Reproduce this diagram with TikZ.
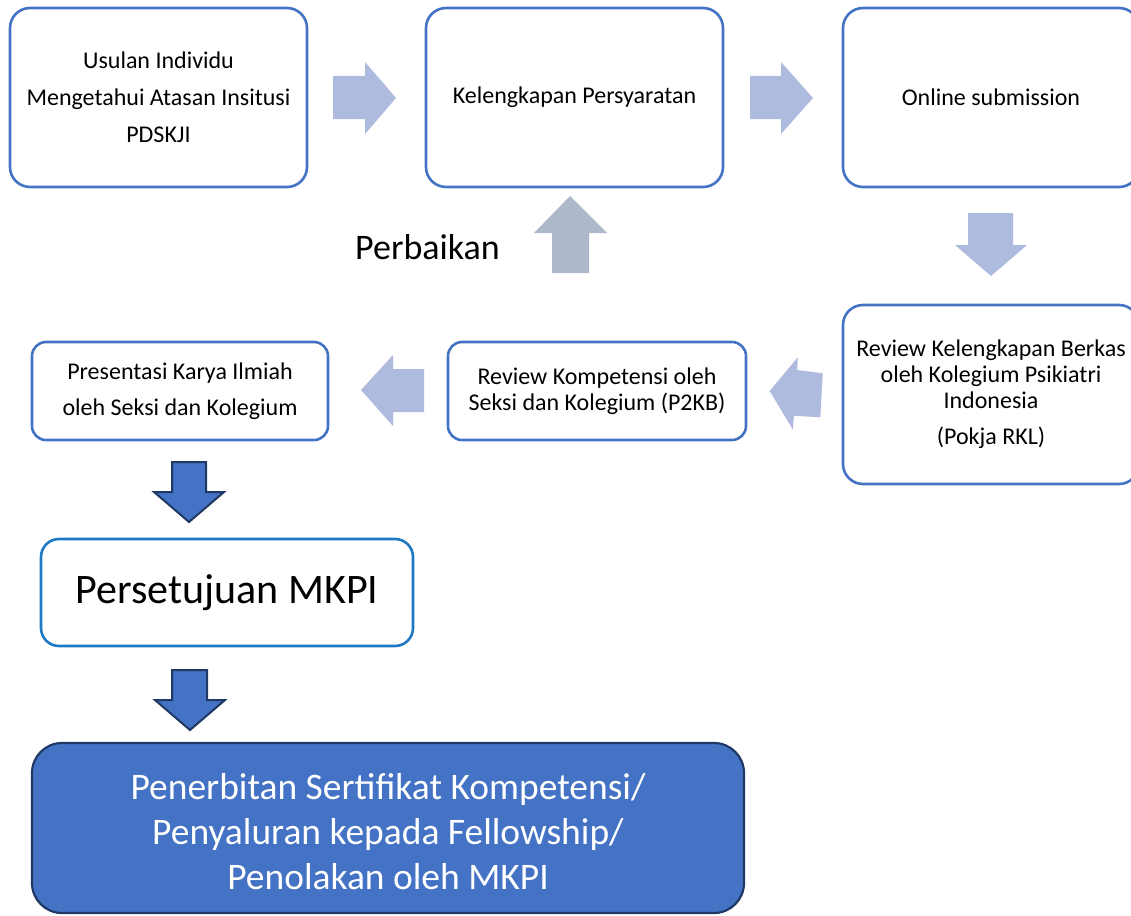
\documentclass[tikz,border=0pt]{standalone}
\usepackage{fontspec}
\setmainfont{Carlito}
\definecolor{boxblue}{HTML}{4472C4}
\definecolor{lightarrow}{HTML}{AEBADE}
\definecolor{grayarrow}{HTML}{ADB9CA}
\definecolor{okblue}{HTML}{1F78C4}
\definecolor{darkedge}{HTML}{203864}
\tikzset{
  box/.style={draw=boxblue, line width=2.6pt, rounded corners=20pt, fill=white, align=center, inner sep=0pt, text=black},
  boxtext/.style={font=\fontsize{24}{37}\selectfont},
  tighttext/.style={font=\fontsize{24}{26}\selectfont},
  lightarr/.style={fill=lightarrow, draw=none},
  grayarr/.style={fill=grayarrow, draw=none},
  darkarr/.style={fill=boxblue, draw=darkedge, line width=2pt, line join=miter},
}
\begin{document}
\begin{tikzpicture}[x=1pt,y=-1pt]
\useasboundingbox (0,0) rectangle (1131,915);
\clip (0,0) rectangle (1131,915);
\fill[white] (0,0) rectangle (1131,915);

% boxes
\node[box, boxtext, minimum width=297pt, minimum height=179pt] (b1) at (158.5,97.5)
  {Usulan Individu\\Mengetahui Atasan Insitusi\\PDSKJI};
\node[box, boxtext, minimum width=297pt, minimum height=179pt] (b2) at (574.5,97.5)
  {Kelengkapan Persyaratan};
\node[box, boxtext, minimum width=296pt, minimum height=179pt] (b3) at (991,97.5)
  {Online submission};
\node[box, font=\fontsize{24}{25.8}\selectfont, minimum width=296pt, minimum height=179pt] (b4) at (991,394.5)
  {Review Kelengkapan Berkas\\oleh Kolegium Psikiatri\\Indonesia\\[11pt](Pokja RKL)};
\node[box, tighttext, minimum width=298pt, minimum height=98pt, rounded corners=14pt] (b5) at (597,391)
  {Review Kompetensi oleh\\Seksi dan Kolegium (P2KB)};
\node[box, font=\fontsize{24}{36}\selectfont, minimum width=296pt, minimum height=98pt, rounded corners=14pt] (b6) at (180,391)
  {Presentasi Karya Ilmiah\\oleh Seksi dan Kolegium};
\node[box, draw=okblue, font=\fontsize{42}{50}\selectfont, minimum width=372pt, minimum height=107pt, rounded corners=18pt] (b7) at (227,592.5)
  {Persetujuan MKPI};
\node[box, draw=darkedge, fill=boxblue, text=white, line width=2.2pt, rounded corners=30pt,
  font=\fontsize{37.5}{45}\selectfont, minimum width=712pt, minimum height=170pt] (b8) at (388,828)
  {\raisebox{-7pt}[\height][\depth]{\begin{tabular}{@{}c@{}}Penerbitan Sertifikat Kompetensi/\\Penyaluran kepada Fellowship/\\Penolakan oleh MKPI\end{tabular}}};

% block arrows
\fill[lightarr] (333,76) -- (365,76) -- (365,62) -- (396,98) -- (365,134) -- (365,119) -- (333,119) -- cycle;
\fill[lightarr] (750,76) -- (781,76) -- (781,62) -- (813,98) -- (781,134) -- (781,119) -- (750,119) -- cycle;
\fill[lightarr] (968,213) -- (1013,213) -- (1013,245) -- (1027,245) -- (991,276) -- (955,245) -- (968,245) -- cycle;
\fill[lightarr] (769.7,391) -- (797.7,357.3) -- (797.3,370) -- (822.7,373.3) -- (820.3,417.3) -- (794,415.7) -- (792.7,429.3) -- cycle;
\fill[lightarr] (361,390) -- (393,355) -- (393,369) -- (424,369) -- (424,412) -- (393,412) -- (393,426) -- cycle;
\fill[grayarr] (570,196) -- (607,233) -- (589,233) -- (589,273) -- (552,273) -- (552,233) -- (534,233) -- cycle;
\draw[darkarr] (172,462) -- (206,462) -- (206,492) -- (224,492) -- (189,522) -- (154,492) -- (172,492) -- cycle;
\draw[darkarr] (172,670) -- (207,670) -- (207,700) -- (225,700) -- (190,730) -- (155,700) -- (172,700) -- cycle;

% label
\node[font=\fontsize{36}{40}\selectfont, anchor=base west, inner sep=0pt] (perb) at (355,259) {Perbaikan};
\end{tikzpicture}
\end{document}
